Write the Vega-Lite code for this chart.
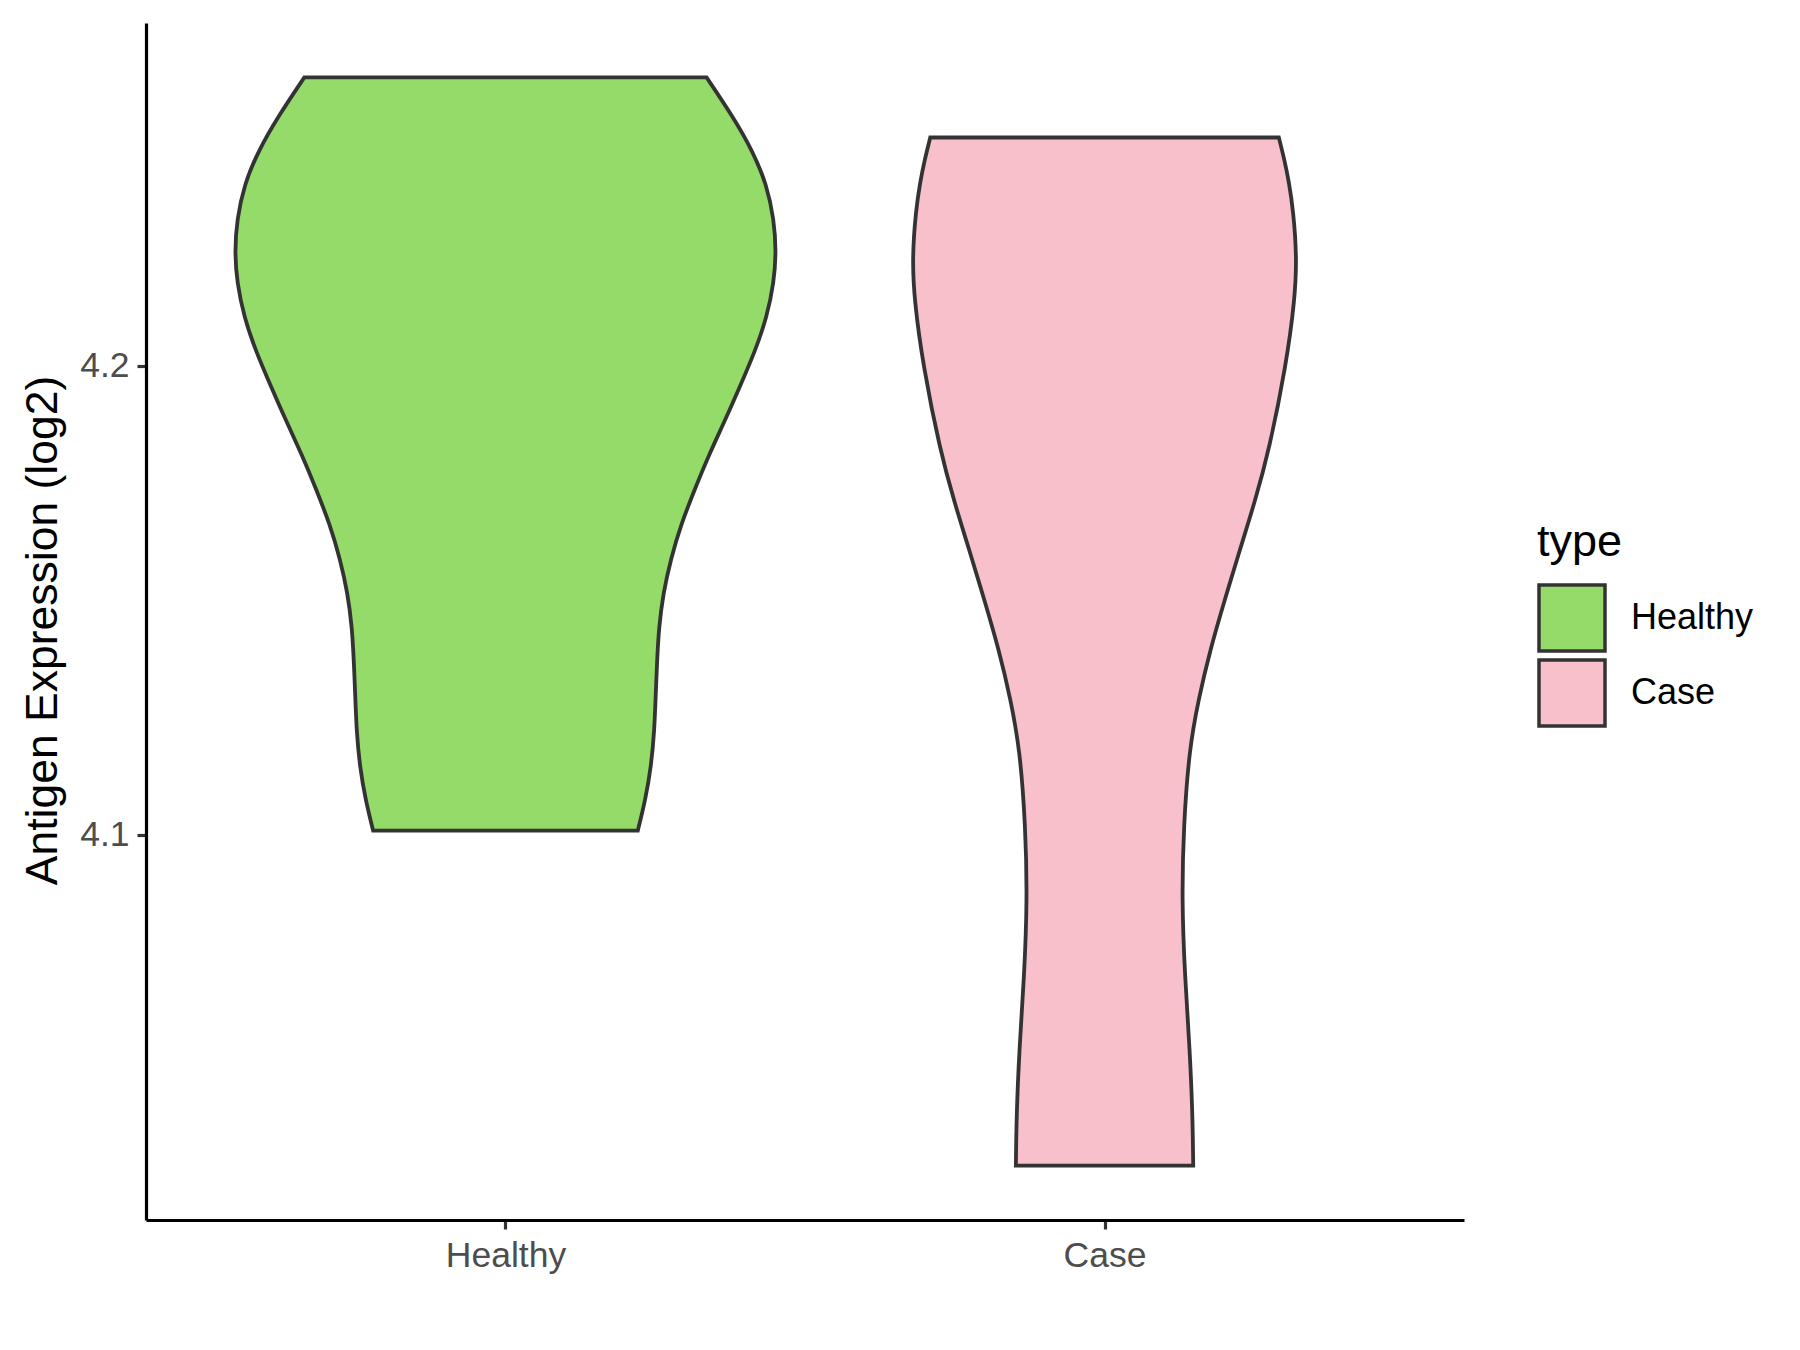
{
  "$schema": "https://vega.github.io/schema/vega-lite/v6.json",
  "width": 1318,
  "height": 1197,
  "autosize": {"type": "none"},
  "padding": {"left": 146, "top": 23, "right": 336, "bottom": 130},
  "background": "white",
  "config": {
    "view": {"stroke": null},
    "font": "Liberation Sans",
    "axis": {
      "grid": false,
      "domainColor": "#000000",
      "domainWidth": 3.2,
      "tickColor": "#333333",
      "tickWidth": 3.2,
      "tickSize": 9,
      "labelColor": "#4D4D4D",
      "labelFont": "Liberation Sans",
      "labelFontSize": 35.5,
      "titleFont": "Liberation Sans",
      "titleFontSize": 44.5,
      "titleFontWeight": "normal",
      "titleColor": "#000000"
    },
    "legend": {
      "titleFont": "Liberation Sans",
      "labelFont": "Liberation Sans"
    }
  },
  "data": {
    "values": [
      {"type": "Healthy", "value": 4.2614, "lo": 0.6643, "hi": 1.3357},
      {"type": "Healthy", "value": 4.2532, "lo": 0.6211, "hi": 1.3789},
      {"type": "Healthy", "value": 4.2458, "lo": 0.5876, "hi": 1.4124},
      {"type": "Healthy", "value": 4.2385, "lo": 0.5637, "hi": 1.4363},
      {"type": "Healthy", "value": 4.2311, "lo": 0.5518, "hi": 1.4482},
      {"type": "Healthy", "value": 4.2244, "lo": 0.5481, "hi": 1.4519},
      {"type": "Healthy", "value": 4.2177, "lo": 0.5518, "hi": 1.4482},
      {"type": "Healthy", "value": 4.2103, "lo": 0.5637, "hi": 1.4363},
      {"type": "Healthy", "value": 4.2029, "lo": 0.5838, "hi": 1.4162},
      {"type": "Healthy", "value": 4.1956, "lo": 0.6084, "hi": 1.3916},
      {"type": "Healthy", "value": 4.1882, "lo": 0.6338, "hi": 1.3662},
      {"type": "Healthy", "value": 4.1809, "lo": 0.6606, "hi": 1.3394},
      {"type": "Healthy", "value": 4.1735, "lo": 0.6844, "hi": 1.3156},
      {"type": "Healthy", "value": 4.1662, "lo": 0.7068, "hi": 1.2932},
      {"type": "Healthy", "value": 4.1588, "lo": 0.7239, "hi": 1.2761},
      {"type": "Healthy", "value": 4.1515, "lo": 0.7366, "hi": 1.2634},
      {"type": "Healthy", "value": 4.1441, "lo": 0.7440, "hi": 1.2560},
      {"type": "Healthy", "value": 4.1368, "lo": 0.7470, "hi": 1.2530},
      {"type": "Healthy", "value": 4.1294, "lo": 0.7493, "hi": 1.2507},
      {"type": "Healthy", "value": 4.1221, "lo": 0.7515, "hi": 1.2485},
      {"type": "Healthy", "value": 4.1147, "lo": 0.7567, "hi": 1.2433},
      {"type": "Healthy", "value": 4.1074, "lo": 0.7664, "hi": 1.2336},
      {"type": "Healthy", "value": 4.1009, "lo": 0.7791, "hi": 1.2209},
      {"type": "Case", "value": 4.2486, "lo": 1.7091, "hi": 2.2909},
      {"type": "Case", "value": 4.2440, "lo": 1.7000, "hi": 2.3000},
      {"type": "Case", "value": 4.2390, "lo": 1.6920, "hi": 2.3080},
      {"type": "Case", "value": 4.2330, "lo": 1.6850, "hi": 2.3150},
      {"type": "Case", "value": 4.2230, "lo": 1.6790, "hi": 2.3210},
      {"type": "Case", "value": 4.2140, "lo": 1.6824, "hi": 2.3176},
      {"type": "Case", "value": 4.2000, "lo": 1.6970, "hi": 2.3030},
      {"type": "Case", "value": 4.1820, "lo": 1.7253, "hi": 2.2747},
      {"type": "Case", "value": 4.1710, "lo": 1.7490, "hi": 2.2510},
      {"type": "Case", "value": 4.1607, "lo": 1.7742, "hi": 2.2258},
      {"type": "Case", "value": 4.1500, "lo": 1.7995, "hi": 2.2005},
      {"type": "Case", "value": 4.1394, "lo": 1.8237, "hi": 2.1763},
      {"type": "Case", "value": 4.1290, "lo": 1.8430, "hi": 2.1570},
      {"type": "Case", "value": 4.1181, "lo": 1.8588, "hi": 2.1412},
      {"type": "Case", "value": 4.1020, "lo": 1.8680, "hi": 2.1320},
      {"type": "Case", "value": 4.0861, "lo": 1.8710, "hi": 2.1290},
      {"type": "Case", "value": 4.0700, "lo": 1.8660, "hi": 2.1340},
      {"type": "Case", "value": 4.0541, "lo": 1.8576, "hi": 2.1424},
      {"type": "Case", "value": 4.0400, "lo": 1.8530, "hi": 2.1470},
      {"type": "Case", "value": 4.0295, "lo": 1.8520, "hi": 2.1480}
    ]
  },
  "mark": {
    "type": "area",
    "orient": "horizontal",
    "interpolate": "basis",
    "stroke": "#333333",
    "strokeWidth": 3.8,
    "fillOpacity": 1
  },
  "encoding": {
    "y": {
      "field": "value",
      "type": "quantitative",
      "scale": {"domain": [4.0179, 4.2730], "nice": false, "zero": false},
      "axis": {
        "title": "Antigen Expression (log2)",
        "values": [4.1, 4.2],
        "format": ".1f",
        "labelPadding": 8,
        "titleX": -90,
        "titleY": 607,
        "titleBaseline": "alphabetic"
      }
    },
    "x": {
      "field": "lo",
      "type": "quantitative",
      "scale": {"domain": [0.4, 2.6], "nice": false, "zero": false},
      "axis": {
        "title": null,
        "values": [1, 2],
        "labelExpr": "datum.value == 1 ? 'Healthy' : 'Case'",
        "labelPadding": 9.5
      }
    },
    "x2": {"field": "hi"},
    "fill": {
      "field": "type",
      "type": "nominal",
      "scale": {"domain": ["Healthy", "Case"], "range": ["#95DB69", "#F8C0CB"]},
      "legend": {
        "orient": "none",
        "legendX": 1391,
        "legendY": 497,
        "padding": 0,
        "title": "type",
        "titleFontSize": 45,
        "titleFontWeight": "normal",
        "titleColor": "#000000",
        "titlePadding": 18,
        "labelFontSize": 36,
        "labelColor": "#000000",
        "labelOffset": 24,
        "symbolType": "square",
        "symbolSize": 4356,
        "symbolStrokeColor": "#333333",
        "symbolStrokeWidth": 3.5,
        "symbolOpacity": 1,
        "symbolFillOpacity": 1,
        "rowPadding": -8
      }
    },
    "detail": {"field": "type"}
  }
}
